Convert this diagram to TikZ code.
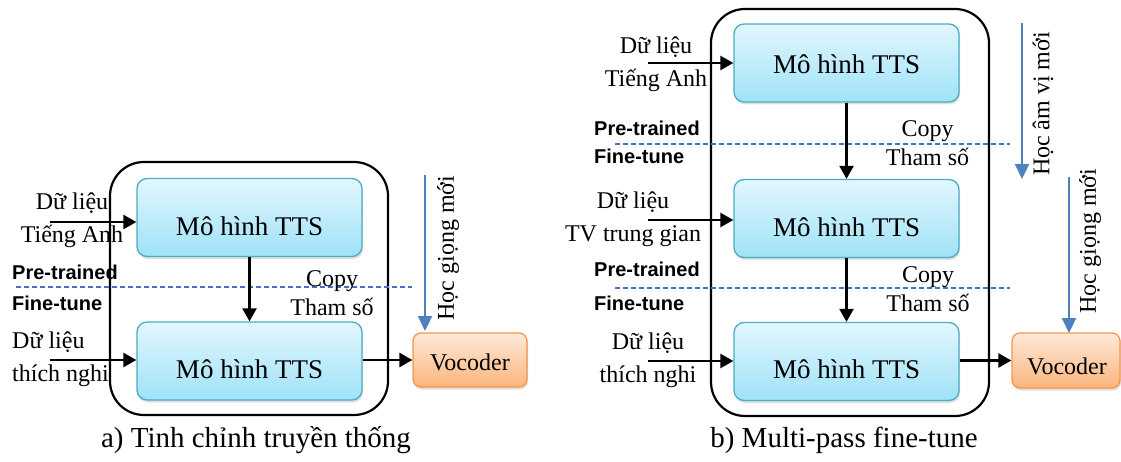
\documentclass[tikz,border=0pt]{standalone}
\usepackage{fontspec}
\setmainfont{Liberation Serif}
\newfontfamily\tnr{Liberation Serif}
\newfontfamily\hdsans{Liberation Sans}
\usetikzlibrary{arrows.meta,shadows}
\definecolor{ttsedge}{HTML}{4BACC6}
\definecolor{ttstop}{HTML}{E2F7FD}
\definecolor{ttsbot}{HTML}{9FE2F7}
\definecolor{vocedge}{HTML}{F79646}
\definecolor{voctop}{HTML}{FDE9DA}
\definecolor{vocbot}{HTML}{FAB57C}
\definecolor{learnblue}{HTML}{4F81BD}
\definecolor{sepblue}{HTML}{4472C4}
\tikzset{
  ttsbox/.style={draw=ttsedge, line width=1.3pt, rounded corners=10pt,
    top color=ttstop, bottom color=ttsbot, minimum width=225pt, minimum height=78pt,
    inner sep=0pt, drop shadow={opacity=0.25, shadow xshift=1pt, shadow yshift=-2.5pt}},
  vocbox/.style={draw=vocedge, line width=1.3pt, rounded corners=8pt,
    top color=voctop, bottom color=vocbot, inner sep=0pt,
    drop shadow={opacity=0.25, shadow xshift=1pt, shadow yshift=-2.5pt}},
  framebox/.style={draw=black, line width=2.2pt, rounded corners=34pt, inner sep=0pt},
  arr/.style={draw=black, line width=2.4pt, -{Triangle[length=13pt,width=14pt]}},
  learnarr/.style={draw=learnblue, line width=2.3pt, -{Triangle[length=15pt,width=14pt]}},
  seprule/.style={draw=sepblue, line width=1.2pt, dash pattern=on 5pt off 3pt},
  lbl/.style={font=\tnr\fontsize{24}{33}\selectfont, inner sep=0pt, align=center},
  lblleft/.style={font=\tnr\fontsize{24}{33}\selectfont, inner sep=0pt, align=left},
  copylbl/.style={font=\tnr\fontsize{24}{29}\selectfont, inner sep=0pt, align=center},
  boxtxt/.style={font=\tnr\fontsize{27}{30}\selectfont, inner sep=0pt},
  voctxt/.style={font=\tnr\fontsize{24}{28}\selectfont, inner sep=0pt},
  phase/.style={font=\hdsans\bfseries\fontsize{20}{24}\selectfont, inner sep=0pt, anchor=west},
  vlbl/.style={font=\tnr\fontsize{24}{28}\selectfont, inner sep=0pt, rotate=90},
  captxt/.style={font=\tnr\fontsize{29}{32}\selectfont, inner sep=0pt},
}
\begin{document}
\begin{tikzpicture}[x=1pt,y=-1pt]
\useasboundingbox[fill=white] (0,0) rectangle (1121,462);

% ---------------- panel a ----------------
\node[framebox, minimum width=278pt, minimum height=253pt] (fa) at (249,288.5) {};
\node[ttsbox] (a1) at (249.5,217.5) {};
\node[ttsbox] (a2) at (249.5,361) {};
\node[boxtxt] (a1t) at (249.5,226) {Mô hình TTS};
\node[boxtxt] (a2t) at (249.5,369) {Mô hình TTS};
\node[vocbox, minimum width=114pt, minimum height=54pt] (av) at (470,360) {};
\node[voctxt] (avt) at (470,362) {Vocoder};

\node[lbl] (ain1) at (72,220) {Dữ liệu\\Tiếng Anh};
\node[lblleft, anchor=west] (ain2) at (12,359.5) {Dữ liệu\\thích nghi};
\coordinate (ain1s) at (50,222);
\coordinate (ain2s) at (50,360);

\node[phase] (apre) at (12,272) {Pre-trained};
\node[phase] (afine) at (12,303) {Fine-tune};
\coordinate (asepL) at (16,287);
\coordinate (asepR) at (412,287);
\draw[seprule] (asepL) -- (asepR);
\node[copylbl] (acopy) at (332,293) {Copy\\Tham số};

\draw[arr] (ain1s) -- (ain1s -| a1.west);
\draw[arr] (ain2s) -- (ain2s -| a2.west);
\draw[arr] (a1.south) -- (a2.north);
\draw[arr] (a2.east |- av.west) -- (av.west);

\coordinate (alearnS) at (425,175);
\coordinate (alearnE) at (425,331);
\draw[learnarr] (alearnS) -- (alearnE);
\node[vlbl] (alearnt) at (448,248) {Học giọng mới};

\node[captxt] (acap) at (256,440) {a) Tinh chỉnh truyền thống};

% ---------------- panel b ----------------
\node[framebox, minimum width=278pt, minimum height=407pt] (fb) at (850,212.5) {};
\node[ttsbox] (b1) at (846.5,63) {};
\node[ttsbox] (b2) at (846.5,218.5) {};
\node[ttsbox] (b3) at (846.5,361.5) {};
\node[boxtxt] (b1t) at (846.5,64) {Mô hình TTS};
\node[boxtxt] (b2t) at (846.5,227) {Mô hình TTS};
\node[boxtxt] (b3t) at (846.5,369) {Mô hình TTS};
\node[vocbox, minimum width=108pt, minimum height=55pt] (bv) at (1066,360.5) {};
\node[voctxt] (bvt) at (1067,366) {Vocoder};

\node[lbl] (bin1) at (656,64.5) {Dữ liệu\\Tiếng Anh};
\node[lbl] (bin2) at (633,219.5) {Dữ liệu\\TV trung gian};
\node[lbl] (bin3) at (648,360) {Dữ liệu\\thích nghi};
\coordinate (bin1s) at (648,63);
\coordinate (bin2s) at (648,220);
\coordinate (bin3s) at (648,361);

\node[phase] (bpre1) at (594,128) {Pre-trained};
\node[phase] (bfine1) at (594,156) {Fine-tune};
\node[phase] (bpre2) at (594,269) {Pre-trained};
\node[phase] (bfine2) at (594,303) {Fine-tune};
\coordinate (bsep1L) at (615,144);
\coordinate (bsep1R) at (1010,144);
\coordinate (bsep2L) at (615,288);
\coordinate (bsep2R) at (1010,288);
\draw[seprule] (bsep1L) -- (bsep1R);
\draw[seprule] (bsep2L) -- (bsep2R);
\node[copylbl] (bcopy1) at (927.5,143) {Copy\\Tham số};
\node[copylbl] (bcopy2) at (928,289.5) {Copy\\Tham số};

\draw[arr] (bin1s) -- (bin1s -| b1.west);
\draw[arr] (bin2s) -- (bin2s -| b2.west);
\draw[arr] (bin3s) -- (bin3s -| b3.west);
\draw[arr] (b1.south) -- (b2.north);
\draw[arr] (b2.south) -- (b3.north);
\draw[arr] (b3.east |- bv.west) -- (bv.west);

\coordinate (blearn1S) at (1022,23);
\coordinate (blearn1E) at (1022,179);
\draw[learnarr] (blearn1S) -- (blearn1E);
\node[vlbl] (blearn1t) at (1043,104) {Học âm vị mới};
\coordinate (blearn2S) at (1069,177);
\coordinate (blearn2E) at (1069,333);
\draw[learnarr] (blearn2S) -- (blearn2E);
\node[vlbl] (blearn2t) at (1090,241) {Học giọng mới};

\node[captxt] (bcap) at (844,440) {b) Multi-pass fine-tune};
\end{tikzpicture}
\end{document}
